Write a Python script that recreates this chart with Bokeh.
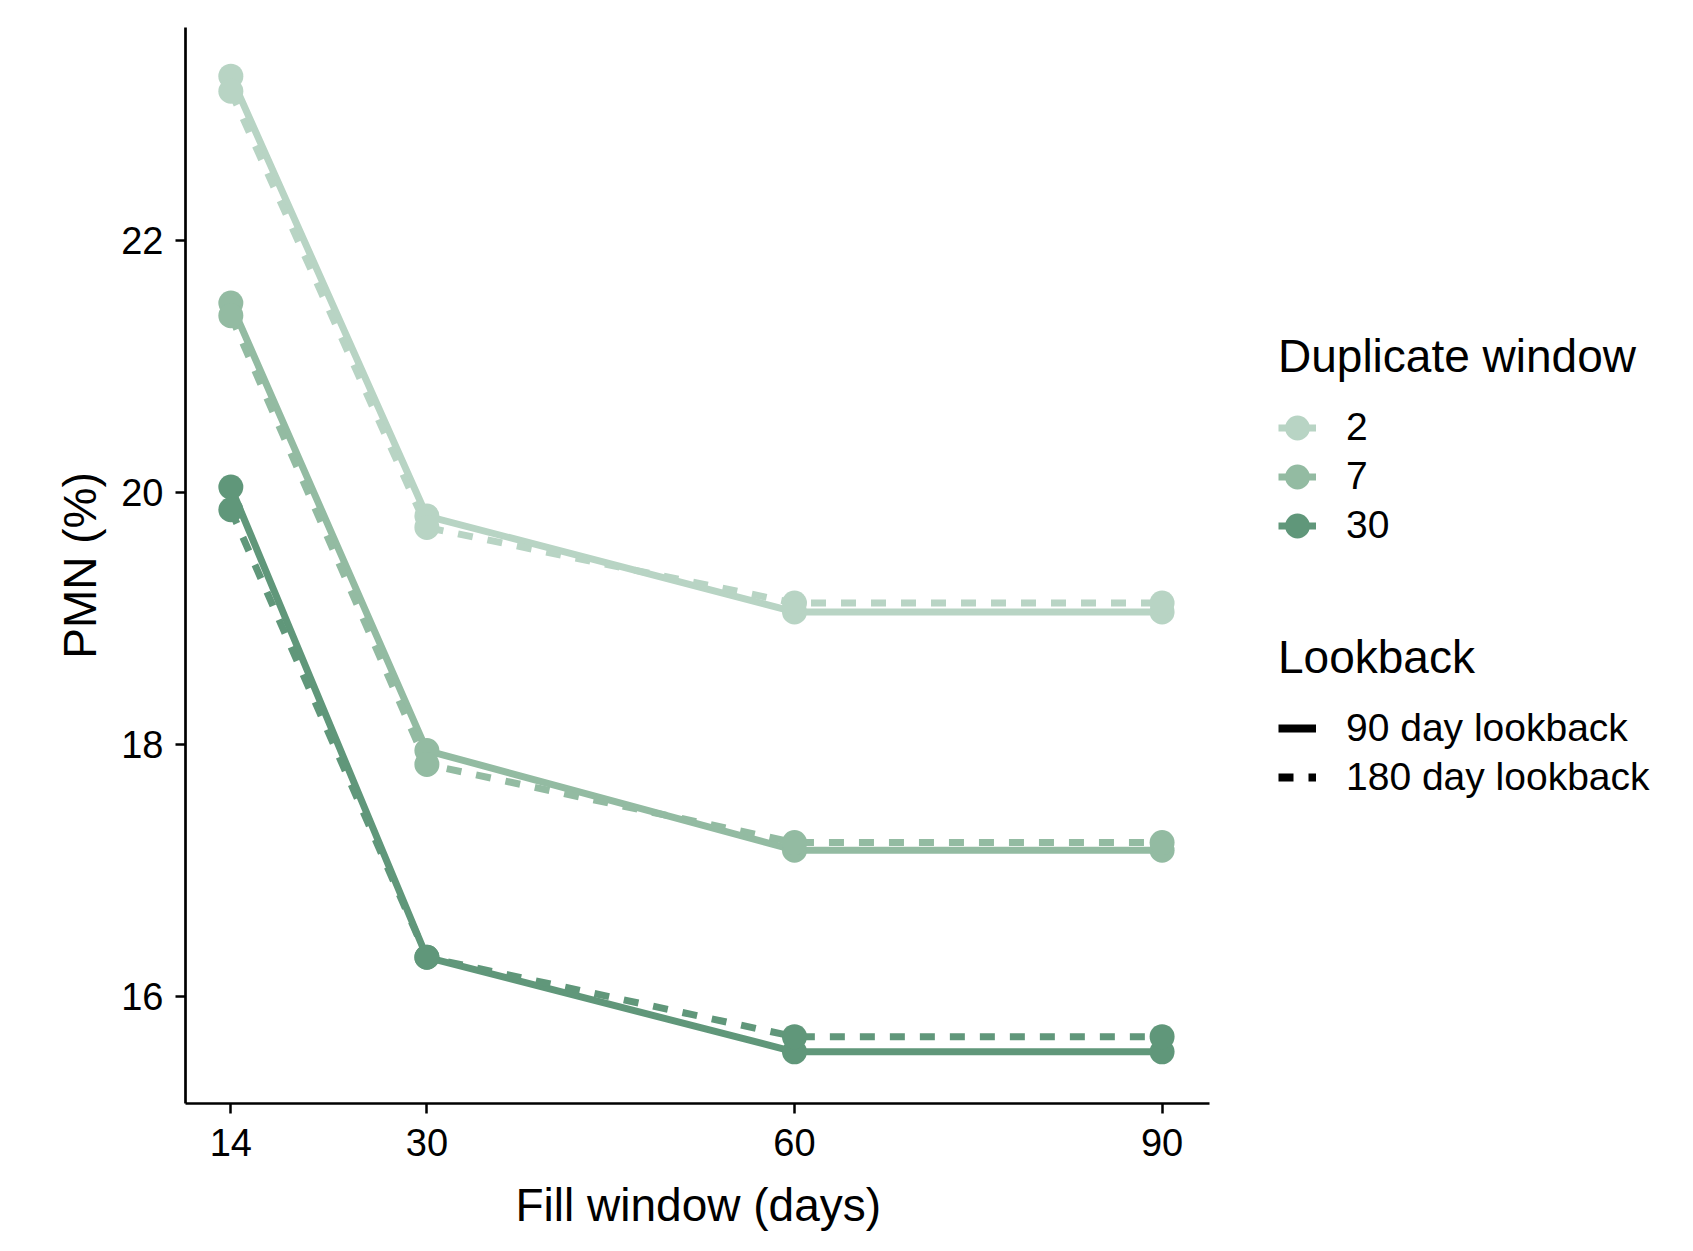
from bokeh.plotting import figure
from bokeh.models import Legend, LegendItem, FixedTicker, Range1d, Title
from bokeh.embed import file_html
from bokeh.resources import INLINE

fill_window = [14, 30, 60, 90]
dup_windows = ["2", "7", "30"]
colors = ["#b8d4c4", "#93bba2", "#60977a"]
pmn_90 = {
    "2": [23.30, 19.81, 19.05, 19.05],
    "7": [21.50, 17.95, 17.16, 17.16],
    "30": [20.04, 16.31, 15.56, 15.56],
}
pmn_180 = {
    "2": [23.18, 19.72, 19.12, 19.12],
    "7": [21.40, 17.84, 17.22, 17.22],
    "30": [19.86, 16.31, 15.68, 15.68],
}
lookback_labels = ["90 day lookback", "180 day lookback"]
x_ticks = [14, 30, 60, 90]
y_ticks = [16, 18, 20, 22]

FONT = "Liberation Sans"
W, H = 1677, 1249
LEFT, RIGHT, TOP, BOTTOM = 185, 10, 27, 146
X0, X1 = 10.3, 93.87          # visible axis extent
AXIS_PX = 1024                # pixel length of the visible x axis
frame_w = W - LEFT - RIGHT
x_end = X0 + (X1 - X0) * frame_w / AXIS_PX

p = figure(width=W, height=H, output_backend="svg", toolbar_location=None,
           x_range=Range1d(X0, x_end), y_range=Range1d(15.15, 23.686),
           min_border_left=LEFT, min_border_right=RIGHT, min_border_top=TOP,
           min_border_bottom=BOTTOM)
p.outline_line_color = None
p.grid.visible = False
p.background_fill_color = "white"

LW = 7
MS = 25
OFF = [-1000, -999]   # off-screen coordinates for legend-key-only renderers
dup_items = []
for d, c in zip(dup_windows, colors):
    p.line(fill_window, pmn_90[d], line_color=c, line_width=LW)
    p.line(fill_window, pmn_180[d], line_color=c, line_width=LW, line_dash="15 15")
    p.scatter(fill_window, pmn_90[d], size=MS, fill_color=c, line_color=None)
    p.scatter(fill_window, pmn_180[d], size=MS, fill_color=c, line_color=None)
    kl = p.line(OFF, OFF, line_color=c, line_width=LW)
    ke = p.ellipse(OFF, OFF, width=MS, height=MS, width_units="screen",
                   height_units="screen", fill_color=c, line_color=None)
    dup_items.append(LegendItem(label=d, renderers=[kl, ke]))

ls = p.line(OFF, OFF, line_color="black", line_width=8)
ld = p.line(OFF, OFF, line_color="black", line_width=8, line_dash="15 15")
look_items = [LegendItem(label=lookback_labels[0], renderers=[ls]),
              LegendItem(label=lookback_labels[1], renderers=[ld])]

def style_legend(lg):
    lg.title_text_font = FONT
    lg.title_text_font_size = "46px"
    lg.title_text_font_style = "normal"
    lg.title_text_color = "black"
    lg.label_text_font = FONT
    lg.label_text_font_size = "39px"
    lg.label_text_color = "black"
    lg.glyph_width = 38
    lg.glyph_height = 44
    lg.label_height = 44
    lg.label_standoff = 30
    lg.spacing = 5
    lg.padding = 0
    lg.margin = 0
    lg.border_line_alpha = 0
    lg.background_fill_alpha = 0
    lg.title_standoff = 22

leg1 = Legend(items=dup_items, title="Duplicate window", location=(1093, 556))
leg2 = Legend(items=look_items, title="Lookback", location=(1093, 304))
style_legend(leg1)
style_legend(leg2)
leg1.glyph_height = 31   # ellipse key diameter = 0.8 * min(glyph box) ~ 25px
p.add_layout(leg1, "center")
p.add_layout(leg2, "center")

for ax in (p.xaxis[0], p.yaxis[0]):
    ax.axis_line_color = "black"
    ax.axis_line_width = 2.7
    ax.major_tick_line_color = "black"
    ax.major_tick_line_width = 2.5
    ax.major_tick_out = 10
    ax.major_tick_in = 0
    ax.minor_tick_line_color = None
    ax.major_label_text_font = FONT
    ax.major_label_text_font_size = "38px"
    ax.major_label_text_color = "black"
    ax.axis_label_text_font = FONT
    ax.axis_label_text_font_size = "46px"
    ax.axis_label_text_font_style = "normal"
    ax.axis_label_text_color = "black"

p.xaxis.bounds = (X0, X1)
p.xaxis.ticker = FixedTicker(ticks=x_ticks)
p.yaxis.ticker = FixedTicker(ticks=y_ticks)
p.yaxis.axis_label = "PMN (%)"
p.xaxis.major_label_standoff = 15
p.yaxis.major_label_standoff = 12
p.yaxis.axis_label_standoff = 12

# x-axis title, centred under the visible axis (not the wider frame)
xt = Title(text="Fill window (days)", align="left", offset=330,
           text_font=FONT, text_font_size="46px", text_font_style="normal",
           text_color="black", standoff=36)
p.add_layout(xt, "below")

open("out.html", "w").write(file_html(p, INLINE))
